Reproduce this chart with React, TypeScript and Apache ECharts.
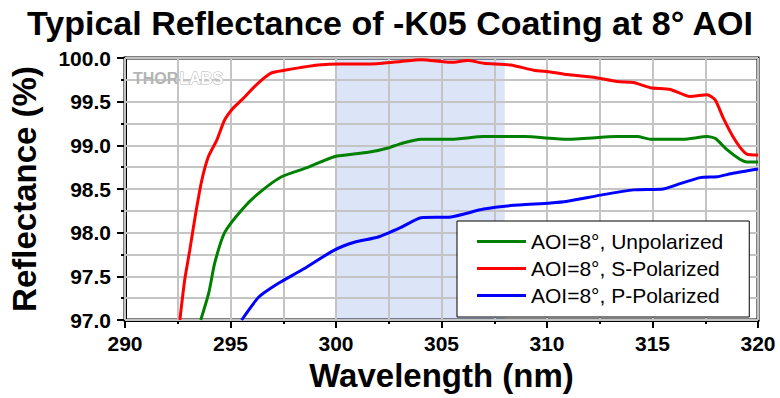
import React, { useEffect, useRef } from "react";
import * as echarts from "echarts";

const TITLE = "Typical Reflectance of -K05 Coating at 8° AOI";
const X_NAME = "Wavelength (nm)";
const Y_NAME = "Reflectance (%)";
const SHADE_RANGE = [300, 308];
const X_RANGE = [290, 320];
const Y_RANGE = [97, 100];

const unpolWl = [293.59, 293.97, 294.25, 294.72, 295.53, 296.33, 297.42, 298.69, 299.92, 301.53, 302.47, 303.08, 304.03, 305.45, 307.0, 308.9, 310.97, 313.33, 314.28, 314.9, 316.45, 317.59, 317.97, 318.53, 319.14, 319.47, 320];
const unpolR = [97.0, 97.31, 97.65, 98.0, 98.26, 98.45, 98.64, 98.75, 98.87, 98.92, 98.97, 99.02, 99.07, 99.07, 99.1, 99.1, 99.07, 99.1, 99.1, 99.07, 99.07, 99.1, 99.08, 98.95, 98.84, 98.81, 98.81];

const sPolWl = [292.6, 292.83, 293.07, 293.35, 293.64, 293.95, 294.35, 294.72, 295.1, 295.53, 296.3, 296.94, 297.56, 298.3, 299.15, 300.24, 301.34, 302.2, 303.08, 304.03, 305.45, 306.25, 307.0, 308.28, 309.37, 310.17, 310.97, 312.2, 313.33, 314.1, 314.9, 315.84, 316.78, 317.59, 317.97, 318.34, 318.81, 319.14, 319.47, 320];
const sPolR = [97.0, 97.46, 97.8, 98.22, 98.6, 98.87, 99.06, 99.29, 99.42, 99.52, 99.71, 99.83, 99.86, 99.89, 99.92, 99.93, 99.93, 99.94, 99.96, 99.98, 99.95, 99.97, 99.94, 99.92, 99.86, 99.84, 99.81, 99.78, 99.73, 99.72, 99.66, 99.64, 99.56, 99.58, 99.52, 99.32, 99.1, 98.98, 98.9, 98.89];

const pPolWl = [295.53, 296.33, 297.27, 298.36, 299.92, 300.87, 302.0, 303.08, 304.03, 305.45, 307.0, 308.28, 310.17, 310.97, 312.53, 314.1, 315.5, 316.17, 317.26, 318.06, 318.81, 320];
const pPolR = [97.0, 97.26, 97.42, 97.57, 97.8, 97.89, 97.95, 98.06, 98.17, 98.18, 98.27, 98.31, 98.34, 98.36, 98.43, 98.49, 98.5, 98.55, 98.63, 98.64, 98.68, 98.73];

const seriesNames = ["AOI=8°, Unpolarized", "AOI=8°, S-Polarized", "AOI=8°, P-Polarized"];
const seriesColors = ["#008000", "#ff0000", "#0000ff"];

const zip = (a: number[], b: number[]) => a.map((v, i) => [v, b[i]]);

export default function App() {
  const ref = useRef<HTMLDivElement>(null);
  useEffect(() => {
    const chart = echarts.init(ref.current!, null, { renderer: "svg" });
    const font = "Arial, 'Liberation Sans', sans-serif";
    const gridColor = "#c4c4c4";
    const datasets = [zip(unpolWl, unpolR), zip(sPolWl, sPolR), zip(pPolWl, pPolR)];
    const splitOnly = {
      splitLine: { show: true, lineStyle: { color: gridColor, width: 2 } },
      minorSplitLine: { show: true, lineStyle: { color: gridColor, width: 2 } },
      minorTick: { show: false, splitNumber: 2 },
      axisLine: { show: false },
      axisTick: { show: false },
      axisLabel: { show: false },
    };
    chart.setOption({
      animation: false,
      backgroundColor: "#ffffff",
      textStyle: { fontFamily: font },
      title: {
        text: TITLE,
        left: "center",
        top: 1,
        textStyle: { fontSize: 34, fontWeight: "bold", color: "#000", fontFamily: font },
      },
      grid: {
        left: 123,
        right: 22,
        top: 58,
        bottom: 78,
        show: true,
        borderColor: "#000",
        borderWidth: 3,
        backgroundColor: "transparent",
      },
      legend: {
        orient: "vertical",
        left: 457,
        top: 221,
        z: 30,
        padding: [10, 26, 11, 20],
        backgroundColor: "#fff",
        borderColor: "#000",
        borderWidth: 1,
        borderRadius: 0,
        itemWidth: 49,
        itemHeight: 3,
        itemGap: 6,
        icon: "rect",
        data: seriesNames,
        textStyle: { fontSize: 21, color: "#000", fontFamily: font, lineHeight: 20 },
      },
      xAxis: [
        {
          type: "value",
          min: X_RANGE[0],
          max: X_RANGE[1],
          interval: 5,
          z: 12,
          name: X_NAME,
          nameLocation: "middle",
          nameGap: 38,
          nameTextStyle: { fontSize: 33, fontWeight: "bold", color: "#000", fontFamily: font },
          axisLine: { show: true, onZero: false, lineStyle: { color: "#000", width: 3 } },
          axisTick: { show: true, inside: false, length: 8, lineStyle: { color: "#000", width: 2 } },
          minorTick: { show: true, splitNumber: 2, length: 4, lineStyle: { color: "#000", width: 2 } },
          axisLabel: { fontSize: 21, fontWeight: "bold", color: "#000", margin: 13, fontFamily: font },
          splitLine: { show: true, lineStyle: { color: gridColor, width: 2 } },
          minorSplitLine: { show: true, lineStyle: { color: gridColor, width: 2 } },
        },
        {
          type: "value",
          position: "top",
          min: X_RANGE[0],
          max: X_RANGE[1],
          interval: 5,
          z: 14,
          ...splitOnly,
        },
      ],
      yAxis: [
        {
          type: "value",
          min: Y_RANGE[0],
          max: Y_RANGE[1],
          interval: 0.5,
          z: 12,
          name: Y_NAME,
          nameLocation: "middle",
          nameGap: 84,
          nameTextStyle: { fontSize: 33, fontWeight: "bold", color: "#000", fontFamily: font },
          axisLine: { show: true, onZero: false, lineStyle: { color: "#000", width: 3 } },
          axisTick: { show: true, inside: false, length: 8, lineStyle: { color: "#000", width: 2 } },
          minorTick: { show: true, splitNumber: 2, length: 4, lineStyle: { color: "#000", width: 2 } },
          axisLabel: {
            fontSize: 21,
            fontWeight: "bold",
            color: "#000",
            margin: 14,
            fontFamily: font,
            formatter: (v: number) => v.toFixed(1),
          },
          splitLine: { show: true, lineStyle: { color: gridColor, width: 2 } },
          minorSplitLine: { show: true, lineStyle: { color: gridColor, width: 2 } },
        },
        {
          type: "value",
          position: "right",
          min: Y_RANGE[0],
          max: Y_RANGE[1],
          interval: 0.5,
          z: 14,
          ...splitOnly,
        },
      ],
      graphic: [
        {
          type: "text",
          left: 133,
          top: 70,
          z: 15,
          style: { text: "THOR", fontSize: 16, fontWeight: "bold", fill: "#b4b4b4", fontFamily: font },
        },
        {
          type: "text",
          left: 179,
          top: 70,
          z: 15,
          style: {
            text: "LABS",
            fontSize: 16,
            fontWeight: "bold",
            fill: "#ffffff",
            stroke: "#b4b4b4",
            lineWidth: 1,
            fontFamily: font,
          },
        },
      ],
      series: [
        {
          type: "custom",
          name: "shade",
          z: 1,
          silent: true,
          clip: true,
          encode: { x: [0, 1] },
          data: [[SHADE_RANGE[0], SHADE_RANGE[1]]],
          renderItem: (params: any, api: any) => {
            const p0 = api.coord([api.value(0), Y_RANGE[1]]);
            const p1 = api.coord([api.value(1), Y_RANGE[0]]);
            return {
              type: "rect",
              shape: { x: p0[0], y: p0[1], width: p1[0] - p0[0], height: p1[1] - p0[1] },
              style: { fill: "rgb(60,110,210)", opacity: 0.18 },
            };
          },
        },
        ...seriesNames.map((name, i) => ({
          type: "line",
          name,
          data: datasets[i],
          showSymbol: false,
          smooth: 0.2,
          clip: true,
          lineStyle: { color: seriesColors[i], width: 3 },
          itemStyle: { color: seriesColors[i] },
          z: 20,
        })),
      ],
    });
    return () => chart.dispose();
  }, []);
  return <div ref={ref} style={{ position: "fixed", left: 0, top: 0, width: 780, height: 398 }} />;
}
